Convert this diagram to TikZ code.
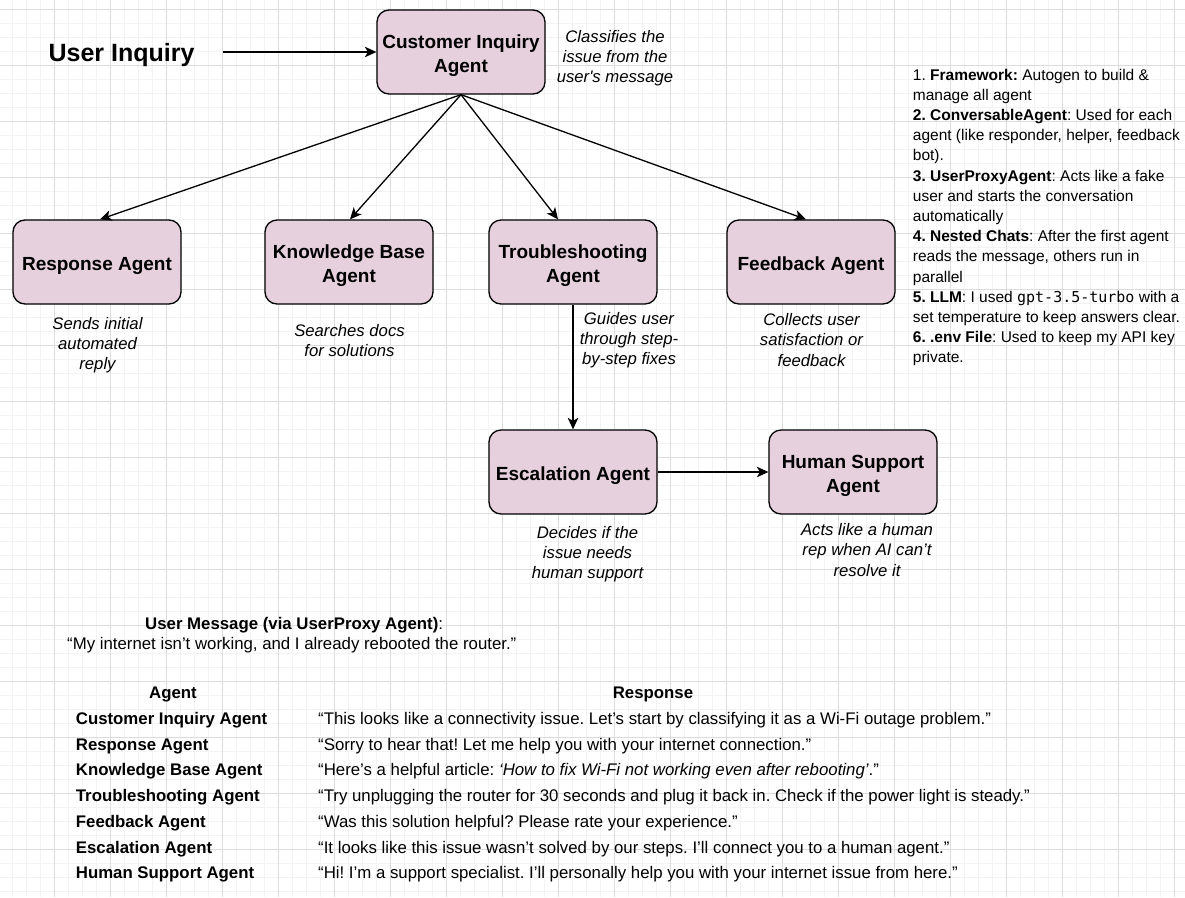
\documentclass[tikz,border=0pt]{standalone}
\usepackage{fontspec}
\setmainfont{Liberation Sans}[Ligatures=TeXOff]
\setmonofont{DejaVu Sans Mono}
\usetikzlibrary{arrows.meta}
\definecolor{boxfill}{HTML}{E6D0DE}
\definecolor{gridmajor}{HTML}{DCDCDC}
\definecolor{gridminor}{HTML}{F3F3F3}
\frenchspacing
\newcommand\agtxt[1]{\raisebox{-3.3pt}[\height][\depth]{\begin{tabular}{@{}c@{}}#1\end{tabular}}}
\begin{document}
\begin{tikzpicture}[x=1pt,y=-1pt,
  agent/.style={draw=black, line width=1.3pt, fill=boxfill, rounded corners=12pt,
    minimum width=168pt, minimum height=84pt, inner sep=0pt,
    font=\bfseries\fontsize{19}{24}\selectfont},
  desc/.style={align=center, inner sep=0pt, font=\itshape\fontsize{16.7}{20.3}\selectfont},
  arr/.style={line width=1.3pt, -{Stealth[length=11.5pt,width=10.5pt,inset=3pt]}},
  tcell/.style={anchor=base west, inner sep=0pt, font=\fontsize{16.8}{20}\selectfont},
  tname/.style={tcell, font=\bfseries\fontsize{16.8}{20}\selectfont},
  thead/.style={anchor=base, inner sep=0pt, font=\bfseries\fontsize{16.8}{20}\selectfont},
  minorline/.style={draw=gridminor, line width=1pt},
  majorline/.style={draw=gridmajor, line width=1pt},
]
\useasboundingbox (0,0) rectangle (1185,897);
\fill[white] (0,0) rectangle (1185,897);
% grid
\foreach \i in {0,...,83} \draw[minorline] ({12.3+14*\i},0) -- ({12.3+14*\i},897);
\foreach \i in {0,...,63} \draw[minorline] (0,{9.3+14*\i}) -- (1185,{9.3+14*\i});
\foreach \i in {1,...,21} \draw[majorline] ({-1.7+56*\i},0) -- ({-1.7+56*\i},897);
\foreach \i in {0,...,15} \draw[majorline] (0,{9.3+56*\i}) -- (1185,{9.3+56*\i});

% title
\node[anchor=base, inner sep=0pt, font=\bfseries\fontsize{25}{30}\selectfont] (ui) at (121.5,61.7) {User Inquiry};
\coordinate (uistart) at (223,52);

% agents
\node[agent] (cia)  at (461,52)  {\agtxt{Customer Inquiry\\Agent}};
\node[agent] (resp) at (97,262)  {\agtxt{Response Agent}};
\node[agent] (kb)   at (349,262) {\agtxt{Knowledge Base\\Agent}};
\node[agent] (ts)   at (573,262) {\agtxt{Troubleshooting\\Agent}};
\node[agent] (fb)   at (811,262) {\agtxt{Feedback Agent}};
\node[agent] (esc)  at (573,472) {\agtxt{Escalation Agent}};
\node[agent] (hs)   at (853,472) {\agtxt{Human Support\\Agent}};

% connectors
\draw[arr] (uistart) -- (cia.west);
\draw[arr] (cia.south) -- ([xshift=3pt]resp.north);
\draw[arr] (cia.south) -- ([xshift=1pt]kb.north);
\draw[arr] (cia.south) -- ([xshift=-15pt]ts.north);
\draw[arr] (cia.south) -- ([xshift=-5pt]fb.north);
\draw[arr] (ts.south) -- (esc.north);
\draw[arr] (esc.east) -- (hs.west);

% descriptions
\node[desc] (dcia)  at (615,58)    {Classifies the\\issue from the\\user's message};
\node[desc] (dresp) at (97.5,345)  {Sends initial\\automated\\reply};
\node[desc] (dkb)   at (349.5,340.5) {Searches docs\\for solutions};
\node[desc] (dts)   at (629,340) {Guides user\\through step-\\by-step fixes};
\node[desc] (dfb)   at (811.5,340) {Collects user\\satisfaction or\\feedback};
\node[desc] (desc)  at (587.5,554) {Decides if the\\issue needs\\human support};
\node[desc] (dhs)   at (867,550) {Acts like a human\\rep when AI can’t\\resolve it};

% notes
\node[anchor=north west, align=left, inner sep=0pt, font=\fontsize{15.5}{20.2}\selectfont] (notes) at (912.7,68.7) {%
1. \textbf{Framework:} Autogen to build \&\\
manage all agent\\
\textbf{2. ConversableAgent}: Used for each\\
agent (like responder, helper, feedback\\
bot).\\
\textbf{3. UserProxyAgent}: Acts like a fake\\
user and starts the conversation\\
automatically\\
\textbf{4. Nested Chats}: After the first agent\\
reads the message, others run in\\
parallel\\
\textbf{5. LLM}: I used {\fontsize{15}{20.2}\selectfont\ttfamily gpt-3.5-turbo} with a\\
set temperature to keep answers clear.\\
\textbf{6. .env File}: Used to keep my API key\\
private.};

% user message
\node[tcell] (umh) at (145,629) {\textbf{User Message (via UserProxy Agent)}:};
\node[tcell] (umq) at (67,649) {“My internet isn’t working, and I already rebooted the router.”};

% table
\node[thead] (hagent) at (173,698.5) {Agent};
\node[thead] (hresp)  at (653,698.5) {Response};

\node[tname] (a1) at (75.7,724.5) {Customer Inquiry Agent};
\node[tname] (a2) at (75.7,750.2) {Response Agent};
\node[tname] (a3) at (75.7,775.9) {Knowledge Base Agent};
\node[tname] (a4) at (75.7,801.6) {Troubleshooting Agent};
\node[tname] (a5) at (75.7,827.3) {Feedback Agent};
\node[tname] (a6) at (75.7,853) {Escalation Agent};
\node[tname] (a7) at (75.7,878.7) {Human Support Agent};

\node[tcell] (r1) at (318,724.5) {“This looks like a connectivity issue. Let’s start by classifying it as a Wi-Fi outage problem.”};
\node[tcell] (r2) at (318,750.2) {“Sorry to hear that! Let me help you with your internet connection.”};
\node[tcell] (r3) at (318,775.9) {“Here’s a helpful article: \textit{‘How to fix Wi-Fi not working even after rebooting’}.”};
\node[tcell] (r4) at (318,801.6) {“Try unplugging the router for 30 seconds and plug it back in. Check if the power light is steady.”};
\node[tcell] (r5) at (318,827.3) {“Was this solution helpful? Please rate your experience.”};
\node[tcell] (r6) at (318,853) {“It looks like this issue wasn’t solved by our steps. I’ll connect you to a human agent.”};
\node[tcell] (r7) at (318,878.7) {“Hi! I’m a support specialist. I’ll personally help you with your internet issue from here.”};
\end{tikzpicture}
\end{document}
